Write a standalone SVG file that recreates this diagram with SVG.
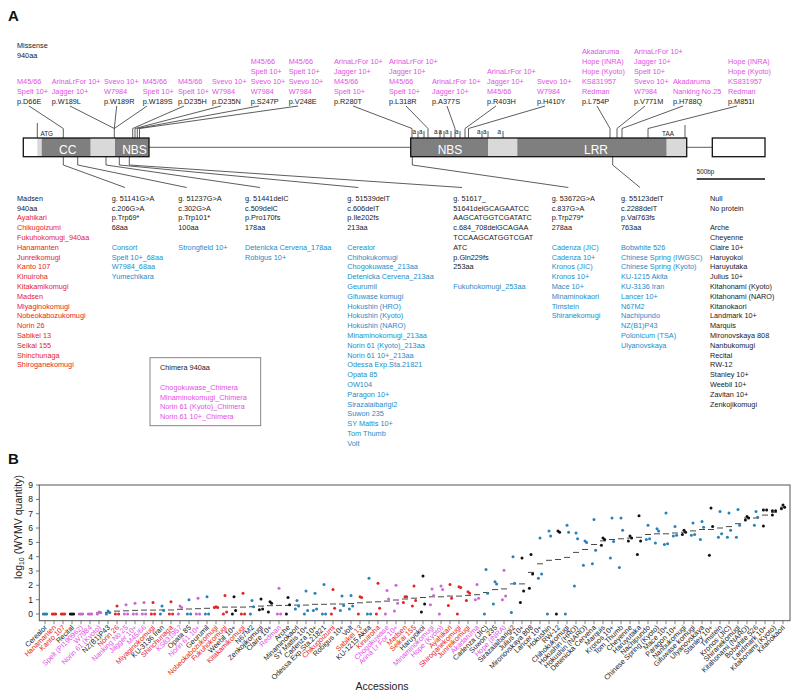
<svg xmlns="http://www.w3.org/2000/svg" width="794" height="698" viewBox="0 0 794 698">
<style>
text{font-family:"Liberation Sans",Arial,sans-serif;}
.t{font-size:7.3px;fill:#1a1a1a}
.k{fill:#1a1a1a}.r{fill:#e52521}.m{fill:#e34fe6}.b{fill:#1a8dca}
.pl{font-size:15px;font-weight:bold;fill:#111}
.dom{font-size:12px;fill:#fff;text-anchor:middle}
.sm{font-size:6.3px;fill:#1a1a1a}
.ln{fill:none;stroke:#333;stroke-width:0.8}
.dk{fill:#7f7f7f}.lt{fill:#d9d9d9}
.ol{fill:none;stroke:#111;stroke-width:1.3}
.xl{font-size:7.2px;text-anchor:end}
.yl{font-size:8.5px;fill:#222;text-anchor:end}
.dR{fill:#e52521}.dM{fill:#cc66d4}.dB{fill:#2a80b8}.dK{fill:#111}
.mn{stroke:#333;stroke-width:0.9}
</style>
<rect width="794" height="698" fill="#fff"/>
<text class="pl" x="8" y="21">A</text>
<text class="pl" x="8" y="464">B</text>

<g id="missense-header" class="t"><text x="17" y="47.5">Missense</text><text x="17" y="57.5">940aa</text></g>

<g id="missense-labels" class="t">
<g id="m-D66E"><text class="m" x="17" y="83.5">M45/66</text><text class="m" x="17" y="93.5">Spelt 10+</text><text x="17" y="103.5">p.D66E</text></g>
<g id="m-W189L"><text class="m" x="51.7" y="83.5">ArinaLrFor 10+</text><text class="m" x="51.7" y="93.5">Jagger 10+</text><text x="51.7" y="103.5">p.W189L</text></g>
<g id="m-W189R"><text class="m" x="104" y="83.5">Svevo 10+</text><text class="m" x="104" y="93.5">W7984</text><text x="104" y="103.5">p.W189R</text></g>
<g id="m-W189S"><text class="m" x="142.7" y="83.5">M45/66</text><text class="m" x="142.7" y="93.5">Spelt 10+</text><text x="142.7" y="103.5">p.W189S</text></g>
<g id="m-D235H"><text class="m" x="178" y="83.5">M45/66</text><text class="m" x="178" y="93.5">Spelt 10+</text><text x="178" y="103.5">p.D235H</text></g>
<g id="m-D235N"><text class="m" x="212" y="83.5">Svevo 10+</text><text class="m" x="212" y="93.5">W7984</text><text x="212" y="103.5">p.D235N</text></g>
<g id="m-S247P"><text class="m" x="250.7" y="63.5">M45/66</text><text class="m" x="250.7" y="73.5">Spelt 10+</text><text class="m" x="250.7" y="83.5">Svevo 10+</text><text class="m" x="250.7" y="93.5">W7984</text><text x="250.7" y="103.5">p.S247P</text></g>
<g id="m-V248E"><text class="m" x="288.7" y="63.5">M45/66</text><text class="m" x="288.7" y="73.5">Spelt 10+</text><text class="m" x="288.7" y="83.5">Svevo 10+</text><text class="m" x="288.7" y="93.5">W7984</text><text x="288.7" y="103.5">p.V248E</text></g>
<g id="m-R280T"><text class="m" x="334" y="63.5">ArinaLrFor 10+</text><text class="m" x="334" y="73.5">Jagger 10+</text><text class="m" x="334" y="83.5">M45/66</text><text class="m" x="334" y="93.5">Spelt 10+</text><text x="334" y="103.5">p.R280T</text></g>
<g id="m-L318R"><text class="m" x="389" y="63.5">ArinaLrFor 10+</text><text class="m" x="389" y="73.5">Jagger 10+</text><text class="m" x="389" y="83.5">M45/66</text><text class="m" x="389" y="93.5">Spelt 10+</text><text x="389" y="103.5">p.L318R</text></g>
<g id="m-A377S"><text class="m" x="432" y="83.5">ArinaLrFor 10+</text><text class="m" x="432" y="93.5">Jagger 10+</text><text x="432" y="103.5">p.A377S</text></g>
<g id="m-R403H"><text class="m" x="487" y="73.5">ArinaLrFor 10+</text><text class="m" x="487" y="83.5">Jagger 10+</text><text class="m" x="487" y="93.5">M45/66</text><text x="487" y="103.5">p.R403H</text></g>
<g id="m-H410Y"><text class="m" x="537" y="83.5">Svevo 10+</text><text class="m" x="537" y="93.5">W7984</text><text x="537" y="103.5">p.H410Y</text></g>
<g id="m-L754P"><text class="m" x="582" y="53.5">Akadaruma</text><text class="m" x="582" y="63.5">Hope (INRA)</text><text class="m" x="582" y="73.5">Hope (Kyoto)</text><text class="m" x="582" y="83.5">KS831957</text><text class="m" x="582" y="93.5">Redman</text><text x="582" y="103.5">p.L754P</text></g>
<g id="m-V771M"><text class="m" x="634" y="53.5">ArinaLrFor 10+</text><text class="m" x="634" y="63.5">Jagger 10+</text><text class="m" x="634" y="73.5">Spelt 10+</text><text class="m" x="634" y="83.5">Svevo 10+</text><text class="m" x="634" y="93.5">W7984</text><text x="634" y="103.5">p.V771M</text></g>
<g id="m-H788Q"><text class="m" x="673" y="83.5">Akadaruma</text><text class="m" x="673" y="93.5">Nanking No.25</text><text x="673" y="103.5">p.H788Q</text></g>
<g id="m-M851I"><text class="m" x="728" y="63.5">Hope (INRA)</text><text class="m" x="728" y="73.5">Hope (Kyoto)</text><text class="m" x="728" y="83.5">KS831957</text><text class="m" x="728" y="93.5">Redman</text><text x="728" y="103.5">p.M851I</text></g>
</g>

<g id="connectors" class="ln">
<polyline points="29,106 63.3,128.5 63.3,138"/>
<polyline points="70,106 114.3,128.5"/>
<polyline points="116.7,106 114.3,128.5"/>
<polyline points="147,106 114.3,128.5"/>
<polyline points="114.3,128.5 114.3,138"/>
<polyline points="184,106 132.7,128.5 132.7,138"/>
<polyline points="221,106 135,128.5 135,138"/>
<polyline points="259,106 137.3,128.5 137.3,138"/>
<polyline points="298,106 139.5,128.5 139.5,138"/>
<polyline points="353,106 412,128.5 412,138"/>
<polyline points="406,106 428,128.5 428,138"/>
<polyline points="447,106 455,128.5 455,138"/>
<polyline points="496,106 465,128.5 465,138"/>
<polyline points="545,106 468.5,128.5 468.5,138"/>
<polyline points="597,106 610,128.5 610,138"/>
<polyline points="645,106 617,128.5 617,138"/>
<polyline points="683,106 622,128.5 622,138"/>
<polyline points="737,106 648,128.5 648,138"/>
<polyline points="37.3,123 37.3,138"/>
<polyline points="685,125 685,138"/>
<polyline points="63.3,156.7 63.3,165 125,187.5"/>
<polyline points="77.7,156.7 77.7,165 186.7,187.5"/>
<polyline points="106,156.7 106,165 260,187.5"/>
<polyline points="119.3,156.7 119.3,165 358.3,187.5"/>
<polyline points="129.3,156.7 129.3,165 462,187.5"/>
<polyline points="412.3,156.7 412.3,165 568.3,187.5"/>
<polyline points="612.7,156.7 612.7,165 640,187.5"/>
<path d="M149 147.3H410.7M686.7 147.3H712.3"/>
<path d="M418 131v7M424 131v7M440 131v7M444 131v7M451 131v7M460 131v7M482 131v7M488 131v7M503 131v7"/>
</g>

<g id="gene">
<rect x="23.3" y="138" width="125.7" height="18.7" fill="#fff"/>
<rect class="lt" x="37.3" y="138" width="4.4" height="18.7"/>
<rect class="dk" x="41.7" y="138" width="49" height="18.7"/>
<rect class="lt" x="90.7" y="138" width="24.3" height="18.7"/>
<rect class="dk" x="115" y="138" width="34" height="18.7"/>
<rect class="ol" x="23.3" y="138" width="125.7" height="18.7"/>
<rect class="dk" x="410.7" y="138" width="77.6" height="18.7"/>
<rect class="lt" x="488.3" y="138" width="29" height="18.7"/>
<rect class="dk" x="517.3" y="138" width="149.4" height="18.7"/>
<rect class="lt" x="666.7" y="138" width="20" height="18.7"/>
<rect class="ol" x="410.7" y="138" width="276" height="18.7"/>
<rect class="ol" x="712.3" y="138" width="52.7" height="18.7" fill="#fff"/>
<text class="dom" x="67.7" y="153.5">CC</text>
<text class="dom" x="134.5" y="153.5">NBS</text>
<text class="dom" x="450" y="153.5">NBS</text>
<text class="dom" x="596" y="153.5">LRR</text>
<text class="sm" x="40.5" y="135.5">ATG</text>
<text class="sm" x="668" y="135.5" text-anchor="middle">TAA</text>
<g class="sm" font-size="5.5"><text x="412.5" y="134">a</text><text x="419" y="134">a</text><text x="434" y="134">a</text><text x="438.5" y="134">a</text><text x="445" y="134">a</text><text x="455" y="134">a</text><text x="477" y="134">a</text><text x="483" y="134">a</text><text x="497.5" y="134">a</text></g>
<text class="sm" x="696.7" y="173.5" font-size="7">500bp</text>
<path d="M696.7 179H765" stroke="#111" stroke-width="1.3"/>
</g>

<g id="col-madsen" class="t">
<text x="17" y="200.8">Madsen</text><text x="17" y="210.6">940aa</text>
<g class="r"><text x="17" y="220.4">Ayahikari</text><text x="17" y="230.2">Chikugoizumi</text><text x="17" y="240">Fukuhokomugi_940aa</text><text x="17" y="249.8">Hanamanten</text><text x="17" y="259.6">Junreikomugi</text><text x="17" y="269.4">Kanto 107</text><text x="17" y="279.2">Kinuiroha</text><text x="17" y="289">Kitakamikomugi</text><text x="17" y="298.8">Madsen</text><text x="17" y="308.6">Miyaginokomugi</text><text x="17" y="318.4">Nobeokabozukomugi</text><text x="17" y="328.2">Norin 26</text><text x="17" y="338">Sabikei 13</text><text x="17" y="347.8">Seikai 155</text><text x="17" y="357.6">Shinchunaga</text><text x="17" y="367.4">Shiroganekomugi</text></g>
</g>
<g id="col-51141" class="t">
<text x="111.7" y="200.8">g. 51141G&gt;A</text><text x="111.7" y="210.6">c.206G&gt;A</text><text x="111.7" y="220.4">p.Trp69*</text><text x="111.7" y="230.2">68aa</text>
<g class="b"><text x="111.7" y="249.8">Consort</text><text x="111.7" y="259.6">Spelt 10+_68aa</text><text x="111.7" y="269.4">W7984_68aa</text><text x="111.7" y="279.2">Yumechikara</text></g>
</g>
<g id="col-51237" class="t">
<text x="178.3" y="200.8">g. 51237G&gt;A</text><text x="178.3" y="210.6">c.302G&gt;A</text><text x="178.3" y="220.4">p.Trp101*</text><text x="178.3" y="230.2">100aa</text>
<text class="b" x="178.3" y="249.8">Strongfield 10+</text>
</g>
<g id="col-51441" class="t">
<text x="245" y="200.8">g. 51441delC</text><text x="245" y="210.6">c.509delC</text><text x="245" y="220.4">p.Pro170fs</text><text x="245" y="230.2">178aa</text>
<g class="b"><text x="245" y="249.8">Detenicka Cervena_178aa</text><text x="245" y="259.6">Robigus 10+</text></g>
</g>
<g id="col-51539" class="t">
<text x="347.3" y="200.8">g. 51539delT</text><text x="347.3" y="210.6">c.606delT</text><text x="347.3" y="220.4">p.Ile202fs</text><text x="347.3" y="230.2">213aa</text>
<g class="b"><text x="347.3" y="249.8">Cerealor</text><text x="347.3" y="259.6">Chihokukomugi</text><text x="347.3" y="269.4">Chogokuwase_213aa</text><text x="347.3" y="279.2">Detenicka Cervena_213aa</text><text x="347.3" y="289">Geurumil</text><text x="347.3" y="298.8">Gifuwase komugi</text><text x="347.3" y="308.6">Hokushin (HRO)</text><text x="347.3" y="318.4">Hokushin (Kyoto)</text><text x="347.3" y="328.2">Hokushin (NARO)</text><text x="347.3" y="338">Minaminokomugi_213aa</text><text x="347.3" y="347.8">Norin 61 (Kyoto)_213aa</text><text x="347.3" y="357.6">Norin 61 10+_213aa</text><text x="347.3" y="367.4">Odessa Exp.Sta.21821</text><text x="347.3" y="377.2">Opata 85</text><text x="347.3" y="387">OW104</text><text x="347.3" y="396.8">Paragon 10+</text><text x="347.3" y="406.6">Sirazaiaibarigi2</text><text x="347.3" y="416.4">Suwon 235</text><text x="347.3" y="426.2">SY Mattis 10+</text><text x="347.3" y="436">Tom Thumb</text><text x="347.3" y="445.8">Volt</text></g>
</g>
<g id="col-51617" class="t">
<text x="453.3" y="200.8">g. 51617_</text><text x="453.3" y="210.6">51641delGCAGAATCC</text><text x="453.3" y="220.4">AAGCATGGTCGATATC</text><text x="453.3" y="230.2">c.684_708delGCAGAA</text><text x="453.3" y="240">TCCAAGCATGGTCGAT</text><text x="453.3" y="249.8">ATC</text><text x="453.3" y="259.6">p.Gln229fs</text><text x="453.3" y="269.4">253aa</text>
<text class="b" x="453.3" y="289">Fukuhokomugi_253aa</text>
</g>
<g id="col-53672" class="t">
<text x="551.7" y="200.8">g. 53672G&gt;A</text><text x="551.7" y="210.6">c.837G&gt;A</text><text x="551.7" y="220.4">p.Trp279*</text><text x="551.7" y="230.2">278aa</text>
<g class="b"><text x="551.7" y="249.8">Cadenza (JIC)</text><text x="551.7" y="259.6">Cadenza 10+</text><text x="551.7" y="269.4">Kronos (JIC)</text><text x="551.7" y="279.2">Kronos 10+</text><text x="551.7" y="289">Mace 10+</text><text x="551.7" y="298.8">Minaminokaori</text><text x="551.7" y="308.6">Timstein</text><text x="551.7" y="318.4">Shiranekomugi</text></g>
</g>
<g id="col-55123" class="t">
<text x="621" y="200.8">g. 55123delT</text><text x="621" y="210.6">c.2288delT</text><text x="621" y="220.4">p.Val763fs</text><text x="621" y="230.2">763aa</text>
<g class="b"><text x="621" y="249.8">Bobwhite 526</text><text x="621" y="259.6">Chinese Spring (IWGSC)</text><text x="621" y="269.4">Chinese Spring (Kyoto)</text><text x="621" y="279.2">KU-1215 Akita</text><text x="621" y="289">KU-3136 Iran</text><text x="621" y="298.8">Lancer 10+</text><text x="621" y="308.6">N67M2</text><text x="621" y="318.4">Nachipundo</text><text x="621" y="328.2">NZ(B1)P43</text><text x="621" y="338">Polonicum (TSA)</text><text x="621" y="347.8">Ulyanovskaya</text></g>
</g>
<g id="col-null" class="t">
<text x="710" y="200.8">Null</text><text x="710" y="210.6">No protein</text>
<text x="710" y="230.2">Arche</text><text x="710" y="240">Cheyenne</text><text x="710" y="249.8">Claire 10+</text><text x="710" y="259.6">Haruyokoi</text><text x="710" y="269.4">Haruyutaka</text><text x="710" y="279.2">Julius 10+</text><text x="710" y="289">Kitahonami (Kyoto)</text><text x="710" y="298.8">Kitahonami (NARO)</text><text x="710" y="308.6">Kitanokaori</text><text x="710" y="318.4">Landmark 10+</text><text x="710" y="328.2">Marquis</text><text x="710" y="338">Mironovskaya 808</text><text x="710" y="347.8">Nanbukomugi</text><text x="710" y="357.6">Recital</text><text x="710" y="367.4">RW-12</text><text x="710" y="377.2">Stanley 10+</text><text x="710" y="387">Weebil 10+</text><text x="710" y="396.8">Zavitan 10+</text><text x="710" y="406.6">Zenkojikomugi</text>
</g>
<g id="chimera" class="t">
<rect x="150" y="357.7" width="110.7" height="68" fill="none" stroke="#777" stroke-width="0.9"/>
<text x="160" y="370.2">Chimera 940aa</text>
<g class="m"><text x="160" y="389.8">Chogokuwase_Chimera</text><text x="160" y="399.6">Minaminokomugi_Chimera</text><text x="160" y="409.4">Norin 61 (Kyoto)_Chimera</text><text x="160" y="419.2">Norin 61 10+_Chimera</text></g>
</g>

<g id="chart">
<rect x="39.3" y="485" width="750.7" height="135.7" fill="none" stroke="#555" stroke-width="1"/>
<path stroke="#555" stroke-width="0.8" d="M36 614h3.3M36 599.7h3.3M36 585.3h3.3M36 571h3.3M36 556.7h3.3M36 542.4h3.3M36 528h3.3M36 513.7h3.3M36 499.4h3.3M36 485h3.3"/>
<g class="yl"><text x="33" y="617">0</text><text x="33" y="602.7">1</text><text x="33" y="588.3">2</text><text x="33" y="574">3</text><text x="33" y="559.7">4</text><text x="33" y="545.4">5</text><text x="33" y="531">6</text><text x="33" y="516.7">7</text><text x="33" y="502.4">8</text><text x="33" y="488">9</text></g>
<text transform="translate(22,527) rotate(-90)" text-anchor="middle" font-size="10.5" fill="#222">log<tspan font-size="7" dy="2">10</tspan><tspan dy="-2"> (WYMV quantity)</tspan></text>
<text x="382" y="690" text-anchor="middle" font-size="10.5" fill="#222">Accessions</text>
<path stroke="#555" stroke-width="0.7" d="M45 620.7v3.5M54 620.7v3.5M63 620.7v3.5M72 620.7v3.5M81 620.7v3.5M90 620.7v3.5M99 620.7v3.5M108 620.7v3.5M117 620.7v3.5M126 620.7v3.5M135 620.7v3.5M144 620.7v3.5M153 620.7v3.5M162 620.7v3.5M171 620.7v3.5M180 620.7v3.5M189 620.7v3.5M198 620.7v3.5M207 620.7v3.5M216 620.7v3.5M225 620.7v3.5M234 620.7v3.5M243 620.7v3.5M252 620.7v3.5M261 620.7v3.5M270 620.7v3.5M279 620.7v3.5M288 620.7v3.5M297 620.7v3.5M306 620.7v3.5M315 620.7v3.5M324 620.7v3.5M333 620.7v3.5M342 620.7v3.5M351 620.7v3.5M360 620.7v3.5M369 620.7v3.5M378 620.7v3.5M387 620.7v3.5M396 620.7v3.5M405 620.7v3.5M414 620.7v3.5M423 620.7v3.5M432 620.7v3.5M441 620.7v3.5M450 620.7v3.5M459 620.7v3.5M468 620.7v3.5M477 620.7v3.5M486 620.7v3.5M495 620.7v3.5M504 620.7v3.5M513 620.7v3.5M522 620.7v3.5M531 620.7v3.5M540 620.7v3.5M549 620.7v3.5M558 620.7v3.5M567 620.7v3.5M576 620.7v3.5M585 620.7v3.5M594 620.7v3.5M603 620.7v3.5M612 620.7v3.5M621 620.7v3.5M630 620.7v3.5M639 620.7v3.5M648 620.7v3.5M657 620.7v3.5M666 620.7v3.5M675 620.7v3.5M684 620.7v3.5M693 620.7v3.5M702 620.7v3.5M711 620.7v3.5M720 620.7v3.5M729 620.7v3.5M738 620.7v3.5M747 620.7v3.5M756 620.7v3.5M765 620.7v3.5M774 620.7v3.5M783 620.7v3.5"/>
<g class="xl">
<text class="k" transform="translate(47.5,628) rotate(-45)">Cerealor</text>
<text class="r" transform="translate(56.5,628) rotate(-45)">Hanamanten</text>
<text class="r" transform="translate(65.5,628) rotate(-45)">Kanto 107</text>
<text class="k" transform="translate(74.5,628) rotate(-45)">Recital</text>
<text class="m" transform="translate(83.5,628) rotate(-45)">Spelt (PI190962)</text>
<text class="m" transform="translate(92.5,628) rotate(-45)">W7984</text>
<text class="m" transform="translate(101.5,628) rotate(-45)">Norin 61 (Kyoto)</text>
<text class="k" transform="translate(110.5,628) rotate(-45)">NZ(B1)P43</text>
<text class="r" transform="translate(119.5,628) rotate(-45)">Norin 26</text>
<text class="m" transform="translate(128.5,628) rotate(-45)">Nanking No.25</text>
<text class="m" transform="translate(137.5,628) rotate(-45)">Jagger 10+</text>
<text class="m" transform="translate(146.5,628) rotate(-45)">M45/66</text>
<text class="r" transform="translate(155.5,628) rotate(-45)">Miyaginokomugi</text>
<text class="k" transform="translate(164.5,628) rotate(-45)">KU-3136 Iran</text>
<text class="r" transform="translate(173.5,628) rotate(-45)">Shinchunaga</text>
<text class="m" transform="translate(182.5,628) rotate(-45)">KS831957</text>
<text class="k" transform="translate(191.5,628) rotate(-45)">Opata 85</text>
<text class="m" transform="translate(200.5,628) rotate(-45)">Norin 61 10+</text>
<text class="k" transform="translate(209.5,628) rotate(-45)">Geurumil</text>
<text class="r" transform="translate(218.5,628) rotate(-45)">Nobeokabozukomugi</text>
<text class="r" transform="translate(227.5,628) rotate(-45)">Fukuhokomugi</text>
<text class="k" transform="translate(236.5,628) rotate(-45)">Weebil 10+</text>
<text class="r" transform="translate(245.5,628) rotate(-45)">Kitakamikomugi</text>
<text class="k" transform="translate(254.5,628) rotate(-45)">N67M2</text>
<text class="k" transform="translate(263.5,628) rotate(-45)">Zenkojikomugi</text>
<text class="k" transform="translate(272.5,628) rotate(-45)">Claire 10+</text>
<text class="m" transform="translate(281.5,628) rotate(-45)">Redman</text>
<text class="k" transform="translate(290.5,628) rotate(-45)">Arche</text>
<text class="k" transform="translate(299.5,628) rotate(-45)">Minaminokaori</text>
<text class="k" transform="translate(308.5,628) rotate(-45)">SY Mattis 10+</text>
<text class="k" transform="translate(317.5,628) rotate(-45)">Cadenza 10+</text>
<text class="k" transform="translate(326.5,628) rotate(-45)">Odessa Exp.Sta.21821</text>
<text class="r" transform="translate(335.5,628) rotate(-45)">Chikugoizumi</text>
<text class="k" transform="translate(344.5,628) rotate(-45)">Robigus 10+</text>
<text class="k" transform="translate(353.5,628) rotate(-45)">Volt</text>
<text class="r" transform="translate(362.5,628) rotate(-45)">Sabikei 13</text>
<text class="k" transform="translate(371.5,628) rotate(-45)">KU-1215 Akita</text>
<text class="r" transform="translate(380.5,628) rotate(-45)">Kinuiroha</text>
<text class="m" transform="translate(389.5,628) rotate(-45)">Chogokuwase</text>
<text class="m" transform="translate(398.5,628) rotate(-45)">Arina Lr For 10+</text>
<text class="r" transform="translate(407.5,628) rotate(-45)">Madsen</text>
<text class="r" transform="translate(416.5,628) rotate(-45)">Seikai 155</text>
<text class="k" transform="translate(425.5,628) rotate(-45)">Haruyokoi</text>
<text class="m" transform="translate(434.5,628) rotate(-45)">Minaminokomugi</text>
<text class="m" transform="translate(443.5,628) rotate(-45)">Hope (Kyoto)</text>
<text class="r" transform="translate(452.5,628) rotate(-45)">Ayahikari</text>
<text class="r" transform="translate(461.5,628) rotate(-45)">Shiroganekomugi</text>
<text class="r" transform="translate(470.5,628) rotate(-45)">Junreikomugi</text>
<text class="m" transform="translate(479.5,628) rotate(-45)">Akadaruma</text>
<text class="k" transform="translate(488.5,628) rotate(-45)">Cadenza (JIC)</text>
<text class="k" transform="translate(497.5,628) rotate(-45)">Suwon 235</text>
<text class="m" transform="translate(506.5,628) rotate(-45)">Hope (INRA)</text>
<text class="k" transform="translate(515.5,628) rotate(-45)">Sirazaiaibarigi2</text>
<text class="k" transform="translate(524.5,628) rotate(-45)">Julius 10+</text>
<text class="k" transform="translate(533.5,628) rotate(-45)">Mironovskaya 808</text>
<text class="k" transform="translate(542.5,628) rotate(-45)">Lancer 10+</text>
<text class="k" transform="translate(551.5,628) rotate(-45)">Hokushin</text>
<text class="k" transform="translate(560.5,628) rotate(-45)">RW-12</text>
<text class="k" transform="translate(569.5,628) rotate(-45)">Chihokukomugi</text>
<text class="k" transform="translate(578.5,628) rotate(-45)">Hokushin (HRO)</text>
<text class="k" transform="translate(587.5,628) rotate(-45)">Hokushin (NARO)</text>
<text class="k" transform="translate(596.5,628) rotate(-45)">Detenicka Cervena</text>
<text class="k" transform="translate(605.5,628) rotate(-45)">Marquis</text>
<text class="k" transform="translate(614.5,628) rotate(-45)">Kronos 10+</text>
<text class="k" transform="translate(623.5,628) rotate(-45)">Tom Thumb</text>
<text class="k" transform="translate(632.5,628) rotate(-45)">Cheyenne</text>
<text class="k" transform="translate(641.5,628) rotate(-45)">Haruyutaka</text>
<text class="k" transform="translate(650.5,628) rotate(-45)">Nachipundo</text>
<text class="k" transform="translate(659.5,628) rotate(-45)">Chinese Spring (Kyoto)</text>
<text class="k" transform="translate(668.5,628) rotate(-45)">Mace 10+</text>
<text class="k" transform="translate(677.5,628) rotate(-45)">Paragon 10+</text>
<text class="k" transform="translate(686.5,628) rotate(-45)">Nanbukomugi</text>
<text class="k" transform="translate(695.5,628) rotate(-45)">Gifuwase komugi</text>
<text class="k" transform="translate(704.5,628) rotate(-45)">Ulyanovskaya</text>
<text class="k" transform="translate(713.5,628) rotate(-45)">Stanley 10+</text>
<text class="k" transform="translate(722.5,628) rotate(-45)">Timstein</text>
<text class="k" transform="translate(731.5,628) rotate(-45)">Kronos (JIC)</text>
<text class="k" transform="translate(740.5,628) rotate(-45)">Shiranekomugi</text>
<text class="k" transform="translate(749.5,628) rotate(-45)">Kitahonami (NARO)</text>
<text class="k" transform="translate(758.5,628) rotate(-45)">Bobwhite 526</text>
<text class="k" transform="translate(767.5,628) rotate(-45)">Landmark 10+</text>
<text class="k" transform="translate(776.5,628) rotate(-45)">Kitahonami (Kyoto)</text>
<text class="k" transform="translate(785.5,628) rotate(-45)">Kitanokaori</text>
</g>
<path class="mn" d="M42 614h6M51 614h6M60 614h6M69 614h6M78 614h6M87 614h6M96 612.9h6M105 612.6h6M114 611.1h6M123 610.8h6M132 610.4h6M141 610.1h6M150 610.1h6M159 610h6M168 610h6M177 609.3h6M186 609h6M195 608.7h6M204 608.3h6M213 607.3h6M222 607.1h6M231 607.1h6M240 607.1h6M249 606.8h6M258 606.1h6M267 605.7h6M276 605.4h6M285 605.4h6M294 605.1h6M303 605.1h6M312 604.3h6M321 604.3h6M330 604h6M339 604h6M348 603.5h6M357 602.8h6M366 602.1h6M375 601.8h6M384 601.1h6M393 600h6M402 599h6M411 598.2h6M420 597.5h6M429 596.8h6M438 596.8h6M447 596.1h6M456 596.1h6M465 595.4h6M474 594.7h6M483 592.5h6M492 589.6h6M501 588.9h6M510 583.9h6M519 583.9h6M528 572.4h6M537 563.8h6M546 560.3h6M555 559.5h6M564 557.4h6M573 552.4h6M582 549.5h6M591 544.5h6M600 540.9h6M609 539.5h6M618 538.8h6M627 538.1h6M636 537.3h6M645 534.5h6M654 533.8h6M663 533.8h6M672 533h6M681 532.3h6M690 530.9h6M699 529.5h6M708 529.5h6M717 528h6M726 526.6h6M735 523.7h6M744 518h6M753 518h6M762 515.1h6M771 512.3h6M780 507.2h6"/>
<g id="dots">
<g class="dB"><circle cx="43.4" cy="614" r="1.5"/><circle cx="46.6" cy="614" r="1.5"/><circle cx="45" cy="614" r="1.5"/></g>
<g class="dR"><circle cx="52.4" cy="614" r="1.5"/><circle cx="55.6" cy="614" r="1.5"/><circle cx="54" cy="614" r="1.5"/><circle cx="61.4" cy="614" r="1.5"/><circle cx="64.6" cy="614" r="1.5"/><circle cx="63" cy="614" r="1.5"/></g>
<g class="dK"><circle cx="70.4" cy="614" r="1.5"/><circle cx="73.6" cy="614" r="1.5"/><circle cx="72" cy="614" r="1.5"/></g>
<g class="dM"><circle cx="79.4" cy="614" r="1.5"/><circle cx="82.6" cy="614" r="1.5"/><circle cx="81" cy="614" r="1.5"/><circle cx="88.4" cy="614" r="1.5"/><circle cx="91.6" cy="614" r="1.5"/><circle cx="90" cy="614" r="1.5"/><circle cx="97.4" cy="614" r="1.5"/><circle cx="100.6" cy="612.6" r="1.5"/><circle cx="99" cy="611.9" r="1.5"/></g>
<g class="dB"><circle cx="106.4" cy="614" r="1.5"/><circle cx="109.6" cy="612.6" r="1.5"/><circle cx="108" cy="611.1" r="1.5"/></g>
<g class="dR"><circle cx="115.4" cy="614" r="1.5"/><circle cx="118.6" cy="614" r="1.5"/><circle cx="117" cy="606.1" r="1.5"/></g>
<g class="dM"><circle cx="124.4" cy="614" r="1.5"/><circle cx="127.6" cy="614" r="1.5"/><circle cx="126" cy="604.7" r="1.5"/><circle cx="133.4" cy="614" r="1.5"/><circle cx="136.6" cy="614" r="1.5"/><circle cx="135" cy="603.3" r="1.5"/><circle cx="142.4" cy="614" r="1.5"/><circle cx="145.6" cy="614" r="1.5"/><circle cx="144" cy="602.5" r="1.5"/></g>
<g class="dR"><circle cx="151.4" cy="614" r="1.5"/><circle cx="154.6" cy="614" r="1.5"/><circle cx="153" cy="602.5" r="1.5"/></g>
<g class="dB"><circle cx="160.4" cy="614" r="1.5"/><circle cx="163.6" cy="610.4" r="1.5"/><circle cx="162" cy="606.1" r="1.5"/></g>
<g class="dR"><circle cx="169.4" cy="614" r="1.5"/><circle cx="172.6" cy="614" r="1.5"/><circle cx="171" cy="601.8" r="1.5"/></g>
<g class="dM"><circle cx="178.4" cy="614" r="1.5"/><circle cx="181.6" cy="607.6" r="1.5"/><circle cx="180" cy="606.1" r="1.5"/></g>
<g class="dB"><circle cx="187.4" cy="614" r="1.5"/><circle cx="190.6" cy="614" r="1.5"/><circle cx="189" cy="599.7" r="1.5"/></g>
<g class="dM"><circle cx="196.4" cy="614" r="1.5"/><circle cx="199.6" cy="614" r="1.5"/><circle cx="198" cy="598.2" r="1.5"/></g>
<g class="dB"><circle cx="205.4" cy="614" r="1.5"/><circle cx="208.6" cy="614" r="1.5"/><circle cx="207" cy="596.8" r="1.5"/></g>
<g class="dR"><circle cx="214.4" cy="607.6" r="1.5"/><circle cx="217.6" cy="607.6" r="1.5"/><circle cx="216" cy="606.8" r="1.5"/><circle cx="223.4" cy="614" r="1.5"/><circle cx="226.6" cy="611.9" r="1.5"/><circle cx="225" cy="595.4" r="1.5"/></g>
<g class="dK"><circle cx="232.4" cy="614" r="1.5"/><circle cx="235.6" cy="610.4" r="1.5"/><circle cx="234" cy="596.8" r="1.5"/></g>
<g class="dR"><circle cx="241.4" cy="614" r="1.5"/><circle cx="244.6" cy="614" r="1.5"/><circle cx="243" cy="593.2" r="1.5"/></g>
<g class="dB"><circle cx="250.4" cy="614" r="1.5"/><circle cx="253.6" cy="606.8" r="1.5"/><circle cx="252" cy="600.4" r="1.5"/></g>
<g class="dK"><circle cx="259.4" cy="609.7" r="1.5"/><circle cx="262.6" cy="609" r="1.5"/><circle cx="261" cy="599" r="1.5"/><circle cx="268.4" cy="611.9" r="1.5"/><circle cx="271.6" cy="603.3" r="1.5"/><circle cx="270" cy="601.8" r="1.5"/></g>
<g class="dM"><circle cx="277.4" cy="614" r="1.5"/><circle cx="280.6" cy="614" r="1.5"/><circle cx="279" cy="588.2" r="1.5"/></g>
<g class="dK"><circle cx="286.4" cy="614" r="1.5"/><circle cx="289.6" cy="604.7" r="1.5"/><circle cx="288" cy="597.5" r="1.5"/></g>
<g class="dB"><circle cx="295.4" cy="609" r="1.5"/><circle cx="298.6" cy="606.1" r="1.5"/><circle cx="297" cy="600.4" r="1.5"/><circle cx="304.4" cy="614" r="1.5"/><circle cx="307.6" cy="610.4" r="1.5"/><circle cx="306" cy="591.1" r="1.5"/><circle cx="313.4" cy="610.4" r="1.5"/><circle cx="316.6" cy="609" r="1.5"/><circle cx="315" cy="593.2" r="1.5"/><circle cx="322.4" cy="614" r="1.5"/><circle cx="325.6" cy="614" r="1.5"/><circle cx="324" cy="584.6" r="1.5"/></g>
<g class="dR"><circle cx="331.4" cy="614" r="1.5"/><circle cx="334.6" cy="608.3" r="1.5"/><circle cx="333" cy="589.6" r="1.5"/></g>
<g class="dB"><circle cx="340.4" cy="610.4" r="1.5"/><circle cx="343.6" cy="605.4" r="1.5"/><circle cx="342" cy="596.1" r="1.5"/><circle cx="349.4" cy="609" r="1.5"/><circle cx="352.6" cy="606.1" r="1.5"/><circle cx="351" cy="595.4" r="1.5"/></g>
<g class="dR"><circle cx="358.4" cy="614" r="1.5"/><circle cx="361.6" cy="597.5" r="1.5"/><circle cx="360" cy="596.8" r="1.5"/></g>
<g class="dB"><circle cx="367.4" cy="614" r="1.5"/><circle cx="370.6" cy="614" r="1.5"/><circle cx="369" cy="578.2" r="1.5"/></g>
<g class="dR"><circle cx="376.4" cy="614" r="1.5"/><circle cx="379.6" cy="608.3" r="1.5"/><circle cx="378" cy="583.2" r="1.5"/></g>
<g class="dM"><circle cx="385.4" cy="614" r="1.5"/><circle cx="388.6" cy="599" r="1.5"/><circle cx="387" cy="590.4" r="1.5"/><circle cx="394.4" cy="611.1" r="1.5"/><circle cx="397.6" cy="603.3" r="1.5"/><circle cx="396" cy="585.3" r="1.5"/></g>
<g class="dR"><circle cx="403.4" cy="602.5" r="1.5"/><circle cx="406.6" cy="596.8" r="1.5"/><circle cx="405" cy="596.8" r="1.5"/><circle cx="412.4" cy="606.1" r="1.5"/><circle cx="415.6" cy="600.4" r="1.5"/><circle cx="414" cy="586.1" r="1.5"/></g>
<g class="dK"><circle cx="421.4" cy="611.9" r="1.5"/><circle cx="424.6" cy="604" r="1.5"/><circle cx="423" cy="576" r="1.5"/></g>
<g class="dM"><circle cx="430.4" cy="604.7" r="1.5"/><circle cx="433.6" cy="595.4" r="1.5"/><circle cx="432" cy="588.9" r="1.5"/><circle cx="439.4" cy="614" r="1.5"/><circle cx="442.6" cy="589.6" r="1.5"/><circle cx="441" cy="586.1" r="1.5"/></g>
<g class="dR"><circle cx="448.4" cy="605.4" r="1.5"/><circle cx="451.6" cy="598.2" r="1.5"/><circle cx="450" cy="584.6" r="1.5"/><circle cx="457.4" cy="614" r="1.5"/><circle cx="460.6" cy="587.5" r="1.5"/><circle cx="459" cy="586.8" r="1.5"/><circle cx="466.4" cy="600.4" r="1.5"/><circle cx="469.6" cy="593.2" r="1.5"/><circle cx="468" cy="591.8" r="1.5"/></g>
<g class="dM"><circle cx="475.4" cy="599.7" r="1.5"/><circle cx="478.6" cy="598.2" r="1.5"/><circle cx="477" cy="584.6" r="1.5"/></g>
<g class="dB"><circle cx="484.4" cy="614" r="1.5"/><circle cx="487.6" cy="593.2" r="1.5"/><circle cx="486" cy="569.6" r="1.5"/><circle cx="493.4" cy="604" r="1.5"/><circle cx="496.6" cy="583.9" r="1.5"/><circle cx="495" cy="581.8" r="1.5"/></g>
<g class="dM"><circle cx="502.4" cy="599.7" r="1.5"/><circle cx="505.6" cy="596.1" r="1.5"/><circle cx="504" cy="570.3" r="1.5"/></g>
<g class="dB"><circle cx="511.4" cy="612.6" r="1.5"/><circle cx="514.6" cy="583.2" r="1.5"/><circle cx="513" cy="556.7" r="1.5"/></g>
<g class="dK"><circle cx="520.4" cy="602.5" r="1.5"/><circle cx="523.6" cy="591.1" r="1.5"/><circle cx="522" cy="558.1" r="1.5"/><circle cx="529.4" cy="588.2" r="1.5"/><circle cx="532.6" cy="573.9" r="1.5"/><circle cx="531" cy="554.5" r="1.5"/></g>
<g class="dB"><circle cx="538.4" cy="578.2" r="1.5"/><circle cx="541.6" cy="573.9" r="1.5"/><circle cx="540" cy="538.1" r="1.5"/><circle cx="547.4" cy="614" r="1.5"/><circle cx="550.6" cy="535.9" r="1.5"/><circle cx="549" cy="530.9" r="1.5"/></g>
<g class="dK"><circle cx="556.4" cy="614" r="1.5"/><circle cx="559.6" cy="532.3" r="1.5"/><circle cx="558" cy="530.9" r="1.5"/></g>
<g class="dB"><circle cx="565.4" cy="614" r="1.5"/><circle cx="568.6" cy="532.3" r="1.5"/><circle cx="567" cy="525.2" r="1.5"/><circle cx="574.4" cy="586.1" r="1.5"/><circle cx="577.6" cy="538.8" r="1.5"/><circle cx="576" cy="533" r="1.5"/><circle cx="583.4" cy="565.3" r="1.5"/><circle cx="586.6" cy="542.4" r="1.5"/><circle cx="585" cy="540.9" r="1.5"/><circle cx="592.4" cy="563.8" r="1.5"/><circle cx="595.6" cy="550.2" r="1.5"/><circle cx="594" cy="519.4" r="1.5"/></g>
<g class="dK"><circle cx="601.4" cy="545.2" r="1.5"/><circle cx="604.6" cy="539.5" r="1.5"/><circle cx="603" cy="538.1" r="1.5"/></g>
<g class="dB"><circle cx="610.4" cy="558.1" r="1.5"/><circle cx="613.6" cy="541.6" r="1.5"/><circle cx="612" cy="518" r="1.5"/><circle cx="619.4" cy="567.4" r="1.5"/><circle cx="622.6" cy="530.2" r="1.5"/><circle cx="621" cy="518" r="1.5"/></g>
<g class="dK"><circle cx="628.4" cy="540.9" r="1.5"/><circle cx="631.6" cy="538.1" r="1.5"/><circle cx="630" cy="535.9" r="1.5"/><circle cx="637.4" cy="554.5" r="1.5"/><circle cx="640.6" cy="540.9" r="1.5"/><circle cx="639" cy="515.8" r="1.5"/></g>
<g class="dB"><circle cx="646.4" cy="539.5" r="1.5"/><circle cx="649.6" cy="538.8" r="1.5"/><circle cx="648" cy="525.2" r="1.5"/><circle cx="655.4" cy="543.1" r="1.5"/><circle cx="658.6" cy="530.9" r="1.5"/><circle cx="657" cy="528.7" r="1.5"/><circle cx="664.4" cy="544.5" r="1.5"/><circle cx="667.6" cy="543.8" r="1.5"/><circle cx="666" cy="513" r="1.5"/><circle cx="673.4" cy="535.9" r="1.5"/><circle cx="676.6" cy="535.2" r="1.5"/><circle cx="675" cy="526.6" r="1.5"/></g>
<g class="dK"><circle cx="682.4" cy="534.5" r="1.5"/><circle cx="685.6" cy="532.3" r="1.5"/><circle cx="684" cy="530.2" r="1.5"/></g>
<g class="dB"><circle cx="691.4" cy="535.2" r="1.5"/><circle cx="694.6" cy="534.5" r="1.5"/><circle cx="693" cy="523" r="1.5"/><circle cx="700.4" cy="539.5" r="1.5"/><circle cx="703.6" cy="527.3" r="1.5"/><circle cx="702" cy="521.6" r="1.5"/></g>
<g class="dK"><circle cx="709.4" cy="555.2" r="1.5"/><circle cx="712.6" cy="526.6" r="1.5"/><circle cx="711" cy="508" r="1.5"/></g>
<g class="dB"><circle cx="718.4" cy="537.3" r="1.5"/><circle cx="721.6" cy="533.8" r="1.5"/><circle cx="720" cy="511.5" r="1.5"/><circle cx="727.4" cy="537.3" r="1.5"/><circle cx="730.6" cy="530.2" r="1.5"/><circle cx="729" cy="513" r="1.5"/><circle cx="736.4" cy="537.3" r="1.5"/><circle cx="739.6" cy="525.2" r="1.5"/><circle cx="738" cy="509.4" r="1.5"/></g>
<g class="dK"><circle cx="745.4" cy="520.1" r="1.5"/><circle cx="748.6" cy="518" r="1.5"/><circle cx="747" cy="516.6" r="1.5"/></g>
<g class="dB"><circle cx="754.4" cy="525.2" r="1.5"/><circle cx="757.6" cy="517.3" r="1.5"/><circle cx="756" cy="511.5" r="1.5"/></g>
<g class="dK"><circle cx="763.4" cy="525.9" r="1.5"/><circle cx="766.6" cy="510.1" r="1.5"/><circle cx="763.4" cy="510.1" r="1.5"/><circle cx="772.4" cy="515.1" r="1.5"/><circle cx="775.6" cy="510.8" r="1.5"/><circle cx="772.4" cy="510.8" r="1.5"/><circle cx="781.4" cy="508.7" r="1.5"/><circle cx="784.6" cy="507.2" r="1.5"/><circle cx="783" cy="505.1" r="1.5"/></g>
</g>
</g>
</svg>
